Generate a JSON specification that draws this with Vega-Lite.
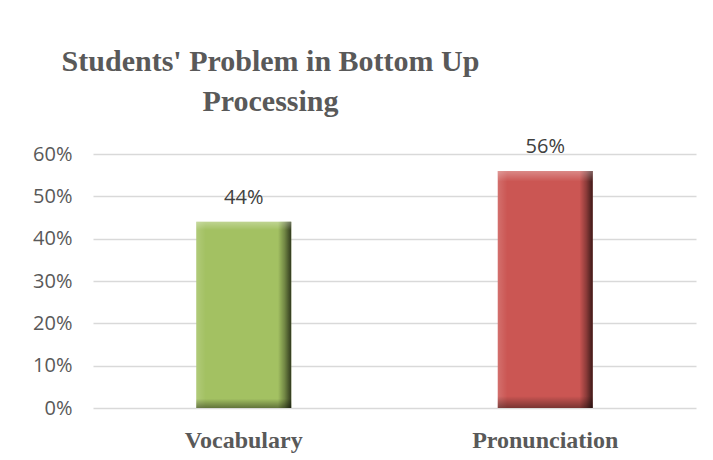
{
  "$schema": "https://vega.github.io/schema/vega-lite/v6.json",
  "width": 603,
  "height": 254,
  "autosize": {"type": "pad"},
  "padding": {"left": 0, "top": 46, "right": 17, "bottom": 5},
  "background": "white",
  "title": {
    "text": ["Students' Problem in Bottom Up", "Processing"],
    "font": "Liberation Serif",
    "fontSize": 30,
    "fontWeight": "bold",
    "color": "#595959",
    "lineHeight": 40,
    "anchor": "middle",
    "dx": -124,
    "offset": 20
  },
  "config": {
    "view": {"stroke": null},
    "axis": {"labelColor": "#595959", "gridColor": "#D9D9D9", "gridWidth": 1.3, "domain": false, "ticks": false}
  },
  "data": {
    "values": [
      {"category": "Vocabulary", "value": 0.44},
      {"category": "Pronunciation", "value": 0.56}
    ]
  },
  "encoding": {
    "x": {
      "field": "category", "type": "nominal", "sort": null,
      "scale": {"paddingInner": 0, "paddingOuter": 0},
      "axis": {"title": null, "labelAngle": 0, "labelFont": "Liberation Serif", "labelFontWeight": "bold", "labelFontSize": 24, "labelPadding": 20, "grid": false}
    },
    "y": {
      "field": "value", "type": "quantitative",
      "scale": {"domain": [0, 0.6]},
      "axis": {"title": null, "format": ".0%", "values": [0, 0.1, 0.2, 0.3, 0.4, 0.5, 0.6], "labelFont": "Open Sans", "labelFontSize": 20, "labelPadding": 21, "minExtent": 93, "maxExtent": 93}
    }
  },
  "layer": [
    {
      "mark": {"type": "bar", "width": {"band": 0.315}},
      "encoding": {
        "color": {"field": "category", "type": "nominal", "legend": null,
          "scale": {"domain": ["Vocabulary", "Pronunciation"], "range": ["#A3C162", "#CB5653"]}}
      }
    },
    {
      "mark": {"type": "bar", "width": {"band": 0.315},
        "fill": {"gradient": "linear", "x1": 0, "y1": 0, "x2": 1, "y2": 0,
          "stops": [
            {"offset": 0, "color": "rgba(255,255,255,0.15)"},
            {"offset": 0.1, "color": "rgba(255,255,255,0)"},
            {"offset": 0.86, "color": "rgba(0,0,0,0)"},
            {"offset": 0.93, "color": "rgba(0,0,0,0.3)"},
            {"offset": 1, "color": "rgba(0,0,0,0.7)"}
          ]}}
    },
    {
      "mark": {"type": "bar", "width": {"band": 0.315},
        "fill": {"gradient": "linear", "x1": 0, "y1": 0, "x2": 0, "y2": 1,
          "stops": [
            {"offset": 0, "color": "rgba(255,255,255,0.3)"},
            {"offset": 0.045, "color": "rgba(255,255,255,0)"},
            {"offset": 0.95, "color": "rgba(0,0,0,0)"},
            {"offset": 1, "color": "rgba(0,0,0,0.4)"}
          ]}}
    },
    {
      "mark": {"type": "text", "baseline": "alphabetic", "dy": -18, "font": "Open Sans", "fontSize": 20, "color": "#404040"},
      "encoding": {"text": {"field": "value", "type": "quantitative", "format": ".0%"}}
    }
  ]
}
